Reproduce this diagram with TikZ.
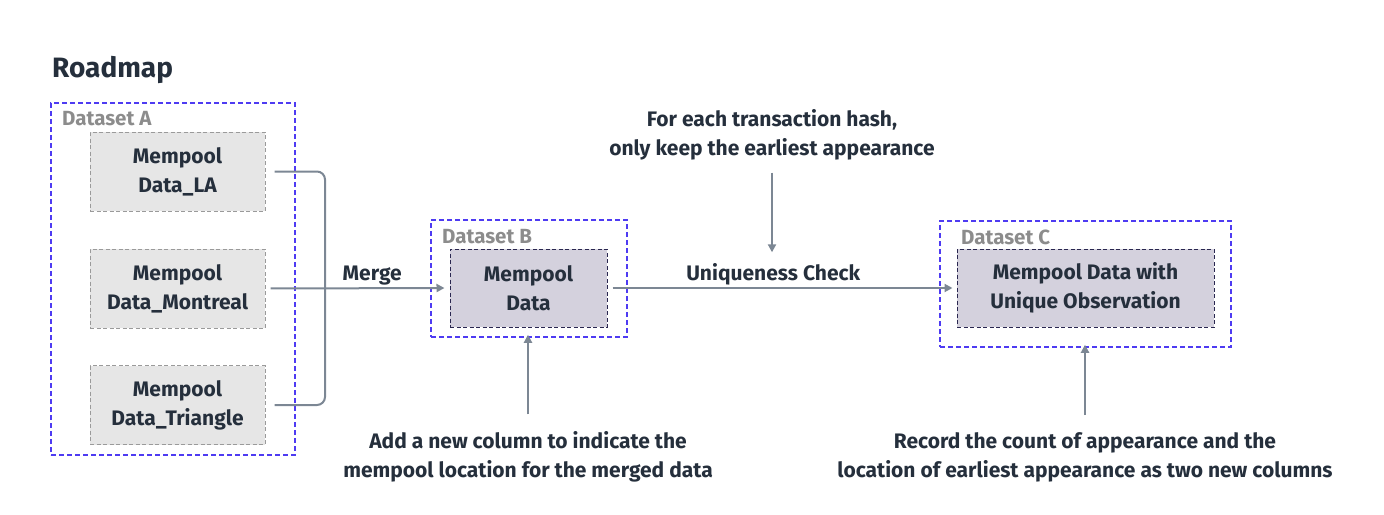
\documentclass[tikz,border=0pt]{standalone}
\usepackage{fontspec}
\setmainfont{Fira Sans}
\usetikzlibrary{arrows.meta}
\definecolor{txtdark}{HTML}{252F3C}
\definecolor{lblgray}{HTML}{8C8C8C}
\definecolor{linkgray}{HTML}{7C8794}
\definecolor{dsblue}{HTML}{4E3BF2}
\definecolor{srcfill}{HTML}{E6E6E6}
\definecolor{srcedge}{HTML}{9A9A9A}
\definecolor{outfill}{HTML}{D4D1DD}
\definecolor{outedge}{HTML}{2A2750}
\tikzset{
  dsbox/.style={draw=dsblue, line width=1.5pt, dash pattern=on 5pt off 3pt, minimum width=#1},
  dslabel/.style={anchor=west, text=lblgray, font=\fontsize{20.5}{24}\selectfont\bfseries, inner sep=0pt},
  srcbox/.style={draw=srcedge, fill=srcfill, line width=1pt, dash pattern=on 4pt off 2.5pt,
    minimum width=175pt, minimum height=79pt, align=center, text=txtdark,
    font=\fontsize{21}{29}\selectfont\bfseries},
  outbox/.style={srcbox, draw=outedge, fill=outfill, minimum width=#1, minimum height=78pt},
  note/.style={align=center, text=txtdark, font=\fontsize{21}{29}\selectfont\bfseries, inner sep=0pt},
  link/.style={draw=linkgray, line width=2pt, rounded corners=8pt},
  arrow/.style={link, -{Triangle[length=8pt,width=8pt]}}
}
\begin{document}
\begin{tikzpicture}[x=1pt,y=-1pt]
  \useasboundingbox (0,0) rectangle (1384,514);

  % title
  \node[anchor=west, inner sep=0pt, text=txtdark, font=\fontsize{28}{32}\selectfont\bfseries] (title) at (52,70) {Roadmap};

  % dataset A
  \node[dsbox=244pt, minimum height=352pt] (dsA) at (173,279) {};
  \node[dslabel] (lblA) at (62,119) {Dataset A};
  \node[srcbox] (la) at (177.5,171.5) {Mempool\\Data\_LA};
  \node[srcbox] (mon) at (177.5,288.5) {Mempool\\Data\_Montreal};
  \node[srcbox] (tri) at (177.5,405) {Mempool\\Data\_Triangle};

  % dataset B
  \node[dsbox=196pt, minimum height=117pt] (dsB) at (529,278.5) {};
  \node[dslabel] (lblB) at (442,237) {Dataset B};
  \node[outbox=157pt] (dataB) at (528.5,288) {Mempool\\Data};

  % dataset C
  \node[dsbox=291pt, minimum height=126pt] (dsC) at (1085.5,284) {};
  \node[dslabel] (lblC) at (961,237) {Dataset C};
  \node[outbox=257pt] (dataC) at (1085.5,288) {Mempool Data with\\Unique Observation};

  % notes
  \node[note] (noteTop) at (772,135) {For each transaction hash,\\only keep the earliest appearance};
  \node[note] (noteB) at (528,457) {Add a new column to indicate the\\mempool location for the merged data};
  \node[note] (noteC) at (1085,457) {Record the count of appearance and the\\location of earliest appearance as two new columns};

  % merge
  \coordinate (bend) at (325,288.5);
  \draw[link] ([xshift=9pt]la.east) -| (bend) |- ([xshift=9pt]tri.east);
  \draw[arrow, shorten <=5pt, shorten >=5pt] (mon.east) -- (dataB.west)
    node[pos=0.58, above=2pt, note] (merge) {Merge};

  % uniqueness check
  \draw[arrow, shorten <=5pt, shorten >=4pt] (dataB.east) -- (dataC.west)
    node[pos=0.475, above=2pt, note] (uniq) {Uniqueness Check};
  \draw[arrow, shorten <=12pt, shorten >=10pt] (noteTop.south) -- (noteTop.south |- uniq.north);

  % new columns
  \draw[arrow, shorten <=17pt, shorten >=-3pt] (noteB.north) -- (noteB.north |- dsB.south);
  \draw[arrow, shorten <=17pt, shorten >=-3pt] (noteC.north) -- (noteC.north |- dsC.south);
\end{tikzpicture}
\end{document}
